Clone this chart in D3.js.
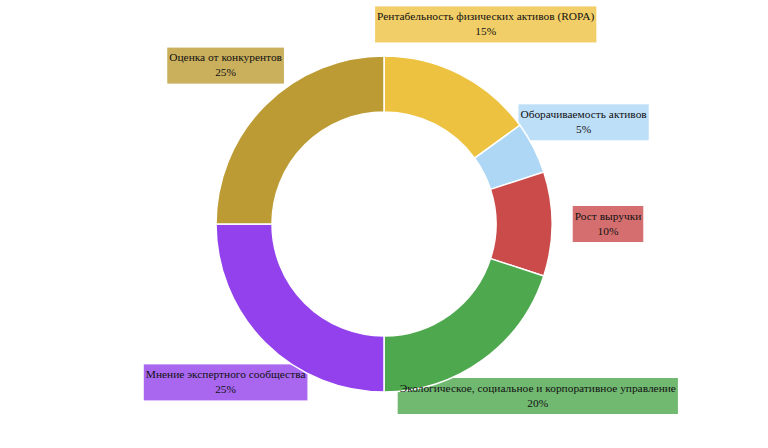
<!DOCTYPE html>
<html>
<head>
<meta charset="utf-8">
<script src="https://cdn.jsdelivr.net/npm/d3@7.9.0/dist/d3.min.js"></script>
<style>
  body { margin: 0; background: #fff; }
  svg { display: block; }
</style>
</head>
<body>
<div id="chart"></div>
<script>
// slice data, clockwise from 12 o'clock
const categories = [
  'Рентабельность физических активов (ROPA)',
  'Оборачиваемость активов',
  'Рост выручки',
  'Экологическое, социальное и корпоративное управление',
  'Мнение экспертного сообщества',
  'Оценка от конкурентов'
];
const shares = [15, 5, 10, 20, 25, 25];
const colors = ['#eec241', '#aed7f6', '#cb4b4b', '#4ea84e', '#9341ec', '#bd9b34'];

const width = 768;
const height = 448;
const cx = 384, cy = 224;
const outerR = 168, innerR = 112, labelR = 224;

const data = categories.map((c, i) => ({ name: c, value: shares[i], color: colors[i] }));

const svg = d3.select('#chart').append('svg')
  .attr('width', width)
  .attr('height', height);

const pie = d3.pie().sort(null).value(d => d.value);
const arcs = pie(data);

const arc = d3.arc().innerRadius(innerR).outerRadius(outerR);
const labelArc = d3.arc().innerRadius(labelR).outerRadius(labelR);

const g = svg.append('g').attr('transform', `translate(${cx},${cy})`);

// label positions (centroid of a wider ring), the ESG one is pushed a bit off the bottom edge
const labels = arcs.map((a, i) => {
  let [x, y] = labelArc.centroid(a);
  if (y + 18 > height - cy - 34) { const ny = height - cy - 34 - 18; x += (y - ny) * 2.4; y = ny; }
  return { a, x, y };
});

const boxes = g.append('g').attr('class', 'boxes');
const slices = g.append('g').attr('class', 'slices');
const texts = g.append('g').attr('class', 'texts');

slices.selectAll('path')
  .data(arcs)
  .join('path')
  .attr('d', arc)
  .attr('fill', d => d.data.color)
  .attr('stroke', '#fff')
  .attr('stroke-width', 1.5);

const tg = texts.selectAll('text')
  .data(labels)
  .join('text')
  .attr('text-anchor', 'middle')
  .attr('font-family', '"Liberation Serif", "Times New Roman", Times, serif')
  .attr('font-size', 11.4)
  .attr('fill', '#111');

tg.append('tspan')
  .attr('x', d => d.x)
  .attr('y', d => d.y - 4.5)
  .text(d => d.a.data.name);
tg.append('tspan')
  .attr('x', d => d.x)
  .attr('y', d => d.y + 10.5)
  .text(d => d.a.data.value + '%');

tg.each(function(d) {
  const w = this.querySelector('tspan').getComputedTextLength();
  boxes.append('rect')
    .attr('x', d.x - w / 2 - 2)
    .attr('y', d.y - 18)
    .attr('width', w + 4)
    .attr('height', 36)
    .attr('fill', d.a.data.color)
    .attr('fill-opacity', 0.8);
});
</script>
</body>
</html>
